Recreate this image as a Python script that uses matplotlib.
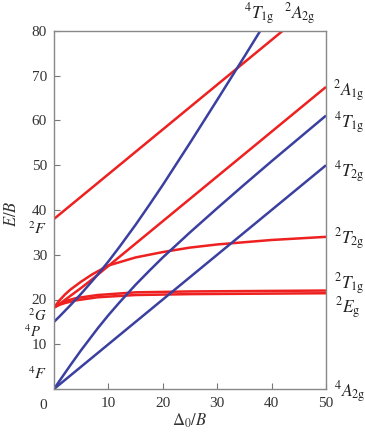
import numpy as np
import matplotlib
matplotlib.use('Agg')
import matplotlib.pyplot as plt

plt.rcParams['font.family'] = 'serif'
plt.rcParams['font.serif'] = ['Liberation Serif', 'DejaVu Serif']
plt.rcParams['mathtext.fontset'] = 'stix'

# quartet terms (blue)
q_4T2g_x = [0, 50]
q_4T2g_y = [0, 50]
q_4T1gF_x = [0, 1, 2, 3, 4, 5, 6, 8, 10, 12, 15, 17.5, 20, 25, 30, 35, 40, 45, 50]
q_4T1gF_y = [0, 1.8, 3.55, 5.3, 7.0, 8.7, 10.3, 13.5, 16.5, 19.3, 23.3, 26.4, 29.4,
             35.0, 40.4, 45.7, 50.9, 56.0, 61.1]
q_4T1gP_x = [0, 1, 2, 3, 4, 5, 6, 8, 10, 12, 15, 17.5, 20, 25, 30, 35, 38]
q_4T1gP_y = [15.0, 16.2, 17.45, 18.7, 20.0, 21.3, 22.7, 25.5, 28.5, 31.7, 36.7, 41.1,
             45.6, 55.0, 64.6, 74.3, 80.2]

# doublet terms (red)
d_2A2g_x = [0, 42]
d_2A2g_y = [38, 80]
d_2A1g_x = [0, 1, 2, 3, 5, 7, 10, 20, 50]
d_2A1g_y = [18.2, 19.0, 19.9, 20.8, 22.6, 24.5, 27.5, 37.5, 67.5]
d_2T2g_x = [0, 1, 2, 3, 5, 7, 10, 15, 20, 25, 30, 40, 50]
d_2T2g_y = [18.2, 19.8, 21.1, 22.2, 24.0, 25.6, 27.6, 29.4, 30.6, 31.6, 32.3, 33.3, 34.0]
d_2T1g_x = [0, 1, 2, 4, 8, 15, 25, 50]
d_2T1g_y = [18.2, 19.0, 19.6, 20.3, 21.0, 21.6, 21.8, 22.0]
d_2Eg_x = [0, 1, 2, 4, 8, 15, 25, 50]
d_2Eg_y = [18.2, 18.8, 19.2, 19.8, 20.5, 21.0, 21.2, 21.4]

blue = '#3b40a0'
red = '#ee2020'
lw = 1.8

fig = plt.figure(figsize=(3.65, 4.38), dpi=100)
ax = fig.add_axes([54/365, 1-389/438, 272/365, 358/438])

for xs, ys in [(d_2A2g_x, d_2A2g_y), (d_2A1g_x, d_2A1g_y), (d_2T2g_x, d_2T2g_y),
               (d_2T1g_x, d_2T1g_y), (d_2Eg_x, d_2Eg_y)]:
    ax.plot(xs, ys, color=red, lw=lw, solid_capstyle='butt')
for xs, ys in [(q_4T2g_x, q_4T2g_y), (q_4T1gF_x, q_4T1gF_y), (q_4T1gP_x, q_4T1gP_y)]:
    ax.plot(xs, ys, color=blue, lw=lw, solid_capstyle='butt')

ax.set_xlim(0, 50)
ax.set_ylim(0, 80)
ax.set_xticks([0, 10, 20, 30, 40, 50])
ax.set_xticklabels(['', '10', '20', '30', '40', '50'])
ax.set_yticks([0, 10, 20, 30, 40, 50, 60, 70, 80])
ax.set_yticklabels(['', '10', '20', '30', '40', '50', '60', '70', '80'])
ax.tick_params(direction='in', length=4, width=0.8, color='#777777',
               labelsize=11, labelcolor='#333333')
ax.tick_params(axis='x', pad=6)
ax.tick_params(axis='y', pad=5)
for s in ax.spines.values():
    s.set_color('#888888')
    s.set_linewidth(1.0)

ax.text(-0.04, -0.045, '0', transform=ax.transAxes, ha='center', va='center',
        fontsize=11, color='#333333')
ax.set_xlabel(r'$\Delta_0/B$', fontsize=12, labelpad=1, color='#333333')
ax.set_ylabel(r'$E/B$', fontsize=12, labelpad=4, color='#333333')
ax.yaxis.set_label_coords(-0.125, 0.49)

lab = dict(fontsize=12.5, color='#222222', va='center', clip_on=False)
# right side term labels
ax.text(51.2, 66.5, r'$^{2}A_{1\mathrm{g}}$', ha='left', **lab)
ax.text(51.4, 59.5, r'$^{4}T_{1\mathrm{g}}$', ha='left', **lab)
ax.text(51.4, 48.5, r'$^{4}T_{2\mathrm{g}}$', ha='left', **lab)
ax.text(51.4, 33.4, r'$^{2}T_{2\mathrm{g}}$', ha='left', **lab)
ax.text(51.4, 23.4, r'$^{2}T_{1\mathrm{g}}$', ha='left', **lab)
ax.text(51.6, 18.0, r'$^{2}E_{\mathrm{g}}$', ha='left', **lab)
ax.text(51.4, -0.8, r'$^{4}A_{2\mathrm{g}}$', ha='left', **lab)
# top labels
ax.text(37.8, 83.8, r'$^{4}T_{1\mathrm{g}}$', ha='center', **lab)
ax.text(45.2, 83.8, r'$^{2}A_{2\mathrm{g}}$', ha='center', **lab)
# left free-ion labels
left = dict(lab, fontsize=11.5)
ax.text(-1.3, 35.5, r'$^{2}F$', ha='right', **left)
ax.text(-1.3, 3.2, r'$^{4}F$', ha='right', **left)
tight = dict(lab, fontsize=10.5)
ax.text(-1.3, 16.3, r'$^{2}G$', ha='right', **tight)
ax.text(-2.4, 12.9, r'$^{4}P$', ha='right', **tight)

fig.savefig('out.png', dpi=100)
